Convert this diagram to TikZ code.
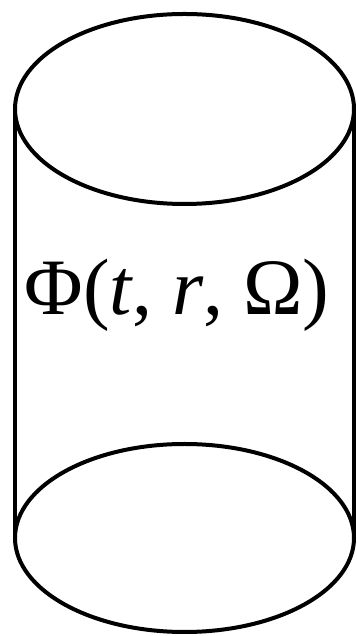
\documentclass[tikz,border=0pt]{standalone}
\usepackage{fontspec}
\setmainfont{Liberation Serif}
\usetikzlibrary{shapes.geometric}
\tikzset{
  disc/.style={ellipse, draw, line width=4pt, inner sep=0pt, outer sep=0pt,
    minimum width=339pt, minimum height=190pt},
  side/.style={line width=4pt}
}
\begin{document}
\begin{tikzpicture}[x=1pt,y=1pt]
        \useasboundingbox (0,0) rectangle (356,636);
        \node[disc] (lid) at (184.5,527) {};
        \node[disc, minimum height=188pt] (base) at (184.5,98) {};
        \draw[side] (lid.west) -- (base.west);
        \draw[side] (lid.east) -- (base.east);
        \node (field) at (177,341) {\fontsize{80}{90}\selectfont Φ(\textit{t}, \textit{r}, Ω)};
      \end{tikzpicture}
\end{document}
